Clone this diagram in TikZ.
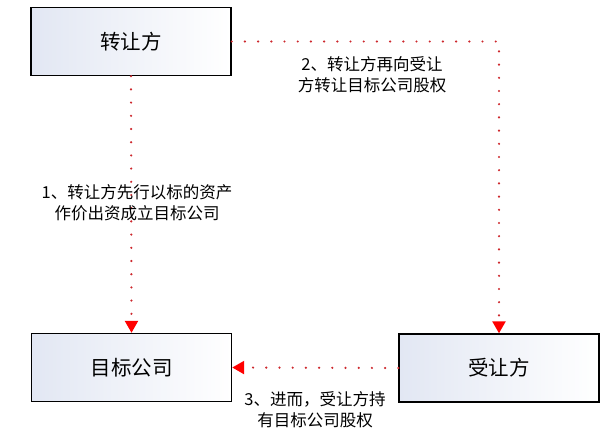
\documentclass[tikz,border=0pt]{standalone}
\usepackage{fontspec}
\newfontfamily\cjk{Noto Sans CJK SC}
\usetikzlibrary{arrows.meta}

\definecolor{boxleft}{RGB}{226,231,243}
\definecolor{dotred}{RGB}{205,40,45}

\tikzset{
  party/.style={draw=black, line width=1.4pt, minimum width=200pt, minimum height=68pt,
    left color=boxleft, right color=white, font=\cjk\fontsize{20.5}{24}\selectfont},
  flow/.style={draw=dotred, line width=2.4pt, line cap=round,
    dash pattern=on 0pt off 13.2pt, -{Triangle[width=13pt,length=12pt,color=red]}},
  note/.style={font=\cjk\fontsize{16.5}{21}\selectfont, align=center, inner sep=0pt}
}

\begin{document}
\begin{tikzpicture}[x=1pt,y=1pt]
\useasboundingbox (0,-447) rectangle (611,0);
\node[party] (zr) at (131,-41.5) {转让方};
\node[party] (mb) at (131.5,-367.5) {目标公司};
\node[party] (sr) at (499,-368) {受让方};
\draw[flow] (zr.south) -- (mb.north);
\draw[flow] (zr.east) -| (sr.north);
\draw[flow] (sr.west) -- (mb.east);
\node[note] (l1) at (137,-203) {1、转让方先行以标的资产\\作价出资成立目标公司};
\node[note] (l2) at (372,-75) {2、转让方再向受让\\方转让目标公司股权};
\node[note] (l3) at (315,-410) {3、进而，受让方持\\有目标公司股权};
\end{tikzpicture}
\end{document}
